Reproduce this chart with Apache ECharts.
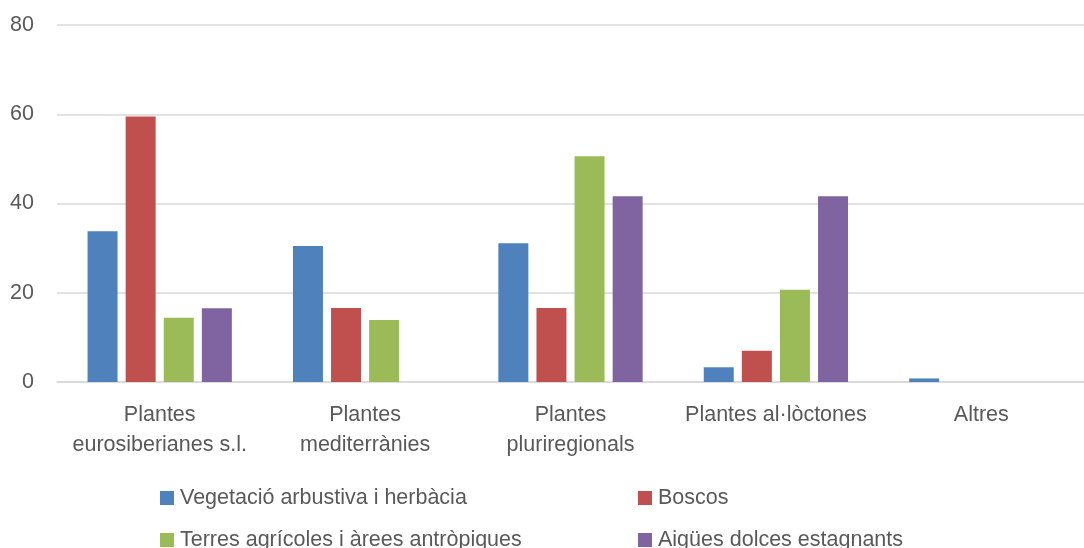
<!DOCTYPE html>
<html>
<head>
<meta charset="utf-8">
<script src="https://cdn.jsdelivr.net/npm/echarts@6/dist/echarts.min.js"></script>
<style>
  html, body { margin: 0; padding: 0; background: #fff; }
  #chart { width: 1084px; height: 548px; }
</style>
</head>
<body>
<div id="chart"></div>
<script>
const categories = [
  'Plantes\neurosiberianes s.l.',
  'Plantes\nmediterrànies',
  'Plantes\npluriregionals',
  'Plantes al·lòctones',
  'Altres'
];
const seriesNames = [
  'Vegetació arbustiva i herbàcia',
  'Boscos',
  'Terres agrícoles i àrees antròpiques',
  'Aigües dolces estagnants'
];
const vegetacio = [33.8, 30.5, 31.1, 3.3, 0.8];
const boscos = [59.5, 16.6, 16.6, 7.0, 0];
const terres = [14.4, 13.9, 50.6, 20.7, 0];
const aigues = [16.5, 0, 41.6, 41.6, 0];
const colors = ['#4F81BD', '#C0504D', '#9BBB59', '#8064A2'];

const font = '"Liberation Sans", Arial, sans-serif';
const textColor = '#595959';

const chart = echarts.init(document.getElementById('chart'));

const values = [vegetacio, boscos, terres, aigues];

// legend spots: 2 columns x 2 rows, one legend per item
const legendPos = [
  { left: 160, top: 487 },
  { left: 638, top: 487 },
  { left: 160, top: 529 },
  { left: 638, top: 529 }
];

const option = {
  animation: false,
  color: colors,
  textStyle: { fontFamily: font, color: textColor },
  grid: { left: 57, right: 0, top: 25, bottom: 166, containLabel: false },
  legend: seriesNames.map((name, i) => ({
    data: [name],
    left: legendPos[i].left,
    top: legendPos[i].top,
    padding: 0,
    itemWidth: 14,
    itemHeight: 14,
    icon: 'rect',
    textStyle: { fontFamily: font, fontSize: 21.5, color: textColor, padding: [0, 0, 0, 1] }
  })),
  xAxis: {
    type: 'category',
    data: categories,
    axisLine: { show: true, lineStyle: { color: '#d9d9d9', width: 1.5 } },
    axisTick: { show: false },
    axisLabel: {
      color: textColor,
      fontSize: 21.5,
      fontFamily: font,
      margin: 18,
      lineHeight: 30,
      interval: 0
    }
  },
  yAxis: {
    type: 'value',
    min: 0,
    max: 80,
    interval: 20,
    axisLine: { show: false },
    axisTick: { show: false },
    axisLabel: { color: textColor, fontSize: 21.5, fontFamily: font, margin: 23 },
    splitLine: { lineStyle: { color: '#d9d9d9', width: 1.5 } }
  },
  series: values.map((d, i) => ({
    name: seriesNames[i],
    type: 'bar',
    data: d,
    barWidth: 30,
    barGap: '27%',
    itemStyle: { color: colors[i] }
  }))
};

chart.setOption(option);
</script>
</body>
</html>
